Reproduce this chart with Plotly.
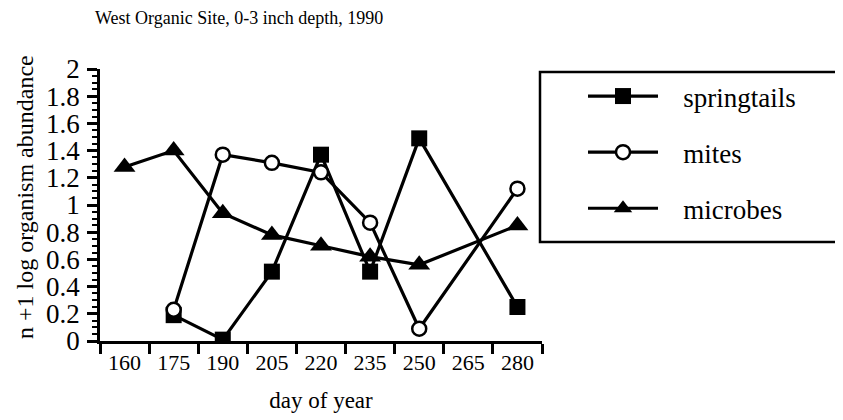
import plotly.graph_objects as go

days = ['160', '175', '190', '205', '220', '235', '250', '265', '280']
springtails = [None, 0.19, 0.01, 0.51, 1.37, 0.51, 1.49, None, 0.25]
mites = [None, 0.23, 1.37, 1.31, 1.24, 0.87, 0.09, None, 1.12]
microbes = [1.28, 1.40, 0.94, 0.78, 0.70, 0.62, 0.56, None, 0.85]

font = 'Liberation Serif'
pad = '\u00a0\u00a0\u00a0'

fig = go.Figure()
fig.add_trace(go.Scatter(x=days, y=springtails, name=pad + 'springtails', legendgroup='a',
                         mode='lines+markers', connectgaps=True,
                         line=dict(color='black', width=3.2),
                         marker=dict(symbol='square', size=16, color='black')))
fig.add_trace(go.Scatter(x=days, y=mites, name=pad + 'mites', legendgroup='b',
                         mode='lines+markers', connectgaps=True,
                         line=dict(color='black', width=3.2),
                         marker=dict(symbol='circle', size=14, color='white',
                                     line=dict(color='black', width=2.5))))
fig.add_trace(go.Scatter(x=days, y=microbes, name=pad + 'microbes', legendgroup='c',
                         mode='lines+markers', connectgaps=True,
                         line=dict(color='black', width=3.2),
                         marker=dict(symbol='triangle-up', size=19, color='black')))

# legend frame (runs off the right edge like the original)
fig.add_shape(type='rect', xref='paper', yref='paper',
              x0=(540 - 100) / 442, x1=(860 - 100) / 442,
              y0=(341 - 242) / 272, y1=(341 - 72) / 272,
              line=dict(color='black', width=2.5), fillcolor='white', layer='below')

# y title as annotation so it can sit exactly where the original has it
fig.add_annotation(text='n +1 log organism abundance', xref='paper', yref='paper',
                   x=(25 - 100) / 442, y=(341 - 197) / 272, textangle=-90,
                   xanchor='center', yanchor='middle',
                   showarrow=False, font=dict(size=24))

# the page body adds an 8px offset, so margins are shifted by 8px
fig.update_layout(
    width=843, height=420,
    margin=dict(l=92, r=309, t=61, b=87),
    plot_bgcolor='white', paper_bgcolor='white',
    font=dict(family=font, size=22, color='black'),
    title=dict(text='West Organic Site, 0-3 inch depth, 1990', x=87 / 843, xanchor='left',
               y=1 - 10 / 420, yanchor='middle', font=dict(size=18)),
    xaxis=dict(type='category', categoryorder='array', categoryarray=days,
               range=[-0.5, 8.5], tickson='boundaries', ticks='outside', ticklen=10,
               tickwidth=2.5, tickcolor='black', showline=True, linewidth=2.5,
               linecolor='black', showgrid=False, ticklabelstandoff=0,
               title=dict(text='day of year', standoff=18, font=dict(size=23))),
    yaxis=dict(range=[0, 2], dtick=0.2, ticks='outside', ticklen=10, tickwidth=2.5,
               tickcolor='black', showline=True, linewidth=2.5, linecolor='black',
               showgrid=False, zeroline=False, ticklabelstandoff=2,
               tickfont=dict(size=27),
               minor=dict(dtick=0.05, ticks='outside', ticklen=5, tickwidth=2,
                          tickcolor='black', showgrid=False)),
    legend=dict(x=(583 - 100) / 442, xanchor='left', y=(341 - 72) / 272, yanchor='top',
                borderwidth=0, bgcolor='rgba(0,0,0,0)',
                itemwidth=70, tracegroupgap=18,
                font=dict(size=27)),
)

fig.write_html('out.html')
